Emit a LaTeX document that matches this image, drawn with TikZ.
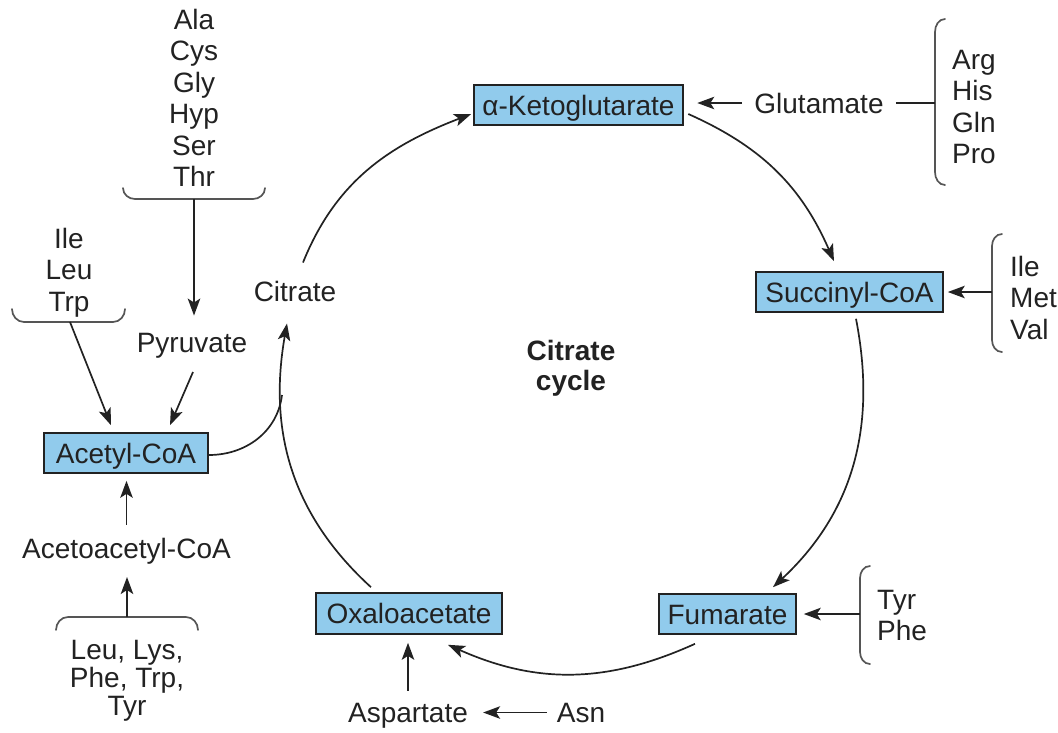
\documentclass[tikz,border=0pt]{standalone}
\usepackage{fontspec}
\setmainfont{Liberation Sans}
\usetikzlibrary{arrows.meta,calc}
\definecolor{boxblue}{RGB}{145,203,236}
\definecolor{ink}{RGB}{34,34,34}
\definecolor{brk}{RGB}{85,85,85}
\tikzset{
  txt/.style={font=\fontsize{28}{31.5}\selectfont, text=ink, inner sep=0pt},
  box/.style={txt, draw=ink, fill=boxblue, line width=1.6pt, minimum height=40pt, text height=20pt, text depth=0pt},
  arr/.style={draw=ink, line width=1.7pt, -{Stealth[length=17pt,width=12.5pt,inset=4pt]}},
  ln/.style={draw=ink, line width=1.7pt},
  brace/.style={draw=brk, line width=1.7pt, line cap=round},
}
\begin{document}
\begin{tikzpicture}[x=1pt,y=1pt]
\useasboundingbox (0,0) rectangle (1058,-732);
% boxes
\node[box, minimum width=209pt] (kg) at (578.5,-105) {α-Ketoglutarate};
\node[box, minimum width=187pt] (sc) at (849.5,-292) {Succinyl-CoA};
\node[box, minimum width=137pt] (fu) at (727.5,-614) {Fumarate};
\node[box, minimum width=186pt, minimum height=41pt] (oa) at (409,-613.5) {Oxaloacetate};
\node[box, minimum width=164pt] (ac) at (126,-453) {Acetyl-CoA};
% plain texts
\node[txt, anchor=base] (glu) at (819,-113) {Glutamate};
\node[txt, anchor=base] (cit) at (295,-301) {Citrate};
\node[txt, anchor=base] (pyr) at (192,-352) {Pyruvate};
\node[txt, anchor=base] (acac) at (126.5,-558) {Acetoacetyl-CoA};
\node[txt, anchor=base] (asp) at (408,-722) {Aspartate};
\node[txt, anchor=base] (asn) at (581,-722) {Asn};
\node[txt, font=\bfseries\fontsize{28}{30}\selectfont, align=center, anchor=north] (cc) at (571,-340) {Citrate\\cycle};
% lists
\node[txt, align=center, anchor=north] (l1) at (194,-9) {Ala\\Cys\\Gly\\Hyp\\Ser\\Thr};
\node[txt, align=center, anchor=north] (l2) at (69,-228) {Ile\\Leu\\Trp};
\node[txt, align=left, anchor=north west] (l3) at (952,-50) {Arg\\His\\Gln\\Pro};
\node[txt, align=left, anchor=north west] (l4) at (1010,-256) {Ile\\Met\\Val};
\node[txt, align=left, anchor=north west] (l5) at (877,-590) {Tyr\\Phe};
\node[txt, font=\fontsize{28}{28}\selectfont, align=center, anchor=north] (l6) at (127,-640) {Leu, Lys,\\Phe, Trp,\\Tyr};
% braces
\draw[brace] (945,-19) to[out=180,in=90] (935,-32) -- (935,-172) to[out=270,in=180] (945,-185);
\coordinate (b3) at (935,-103);
\draw[brace] (1002,-234) to[out=180,in=90] (992,-246) -- (992,-340) to[out=270,in=180] (1002,-352);
\coordinate (b4) at (992,-292);
\draw[brace] (870,-566) to[out=180,in=90] (860,-578) -- (860,-652) to[out=270,in=180] (870,-664);
\coordinate (b5) at (860,-614);
\draw[brace] (123,-188) to[out=270,in=180] (135,-199) -- (253,-199) to[out=0,in=270] (265,-188);
\coordinate (b1) at (194,-199);
\draw[brace] (12,-309) to[out=270,in=180] (24,-322) -- (113,-322) to[out=0,in=270] (125,-309);
\coordinate (b2) at (70,-322);
\draw[brace] (56,-630) to[out=90,in=180] (68,-617) -- (186,-617) to[out=0,in=90] (198,-630);
\coordinate (b6) at (127,-617);
% straight connectors
\draw[ln, shorten <=12pt] (glu.east |- b3) -- (b3);
\draw[arr, shorten <=12pt, shorten >=13.5pt] (glu.west |- b3) -- (kg.east |- b3);
\draw[arr, shorten >=4pt] (b4) -- (sc.east |- b4);
\draw[arr, shorten >=7pt] (b5) -- (fu.east |- b5);
\draw[arr, shorten >=17pt] (b1) -- (b1 |- pyr.north);
\draw[arr] (b2) -- ([shift={(-15,7)}]ac.north);
\draw[arr] ([shift={(1,-14)}]pyr.south) -- ([shift={(44,7)}]ac.north);
\draw[arr, shorten <=13pt, shorten >=7pt] (acac.north) -- (acac.north |- ac.south);
\draw[arr, shorten >=13pt] (b6) -- (b6 |- acac.south);
\draw[arr, shorten <=12pt, shorten >=8pt] (asp.north) -- (asp.north |- oa.south);
\draw[arr, shorten <=10pt, shorten >=15pt] (asn.west) -- (asn.west -| asp.east);
% cycle
\draw[arr] ([shift={(8,18)}]cit.north) to[out=68,in=201] ([shift={(-2,-9)}]kg.west);
\draw[arr] ([shift={(4.5,-9)}]kg.east) to[out=-24,in=113.6] ([shift={(-15.5,10)}]sc.north);
\draw[arr] ([shift={(6.5,-6)}]sc.south) to[out=-79,in=43] ([shift={(45.5,6)}]fu.north);
\draw[arr] ([shift={(-32.5,-9)}]fu.south) to[out=-155.6,in=-24] ([shift={(39,-10)}]oa.south);
\draw[arr] ([shift={(-38,5)}]oa.north) to[out=137.6,in=260] ([shift={(-8,-22)}]cit.south);
\coordinate (m) at (282,-395);
\draw[ln] ([yshift=-2pt]ac.east) to[out=0,in=263] (m);
\end{tikzpicture}
\end{document}
